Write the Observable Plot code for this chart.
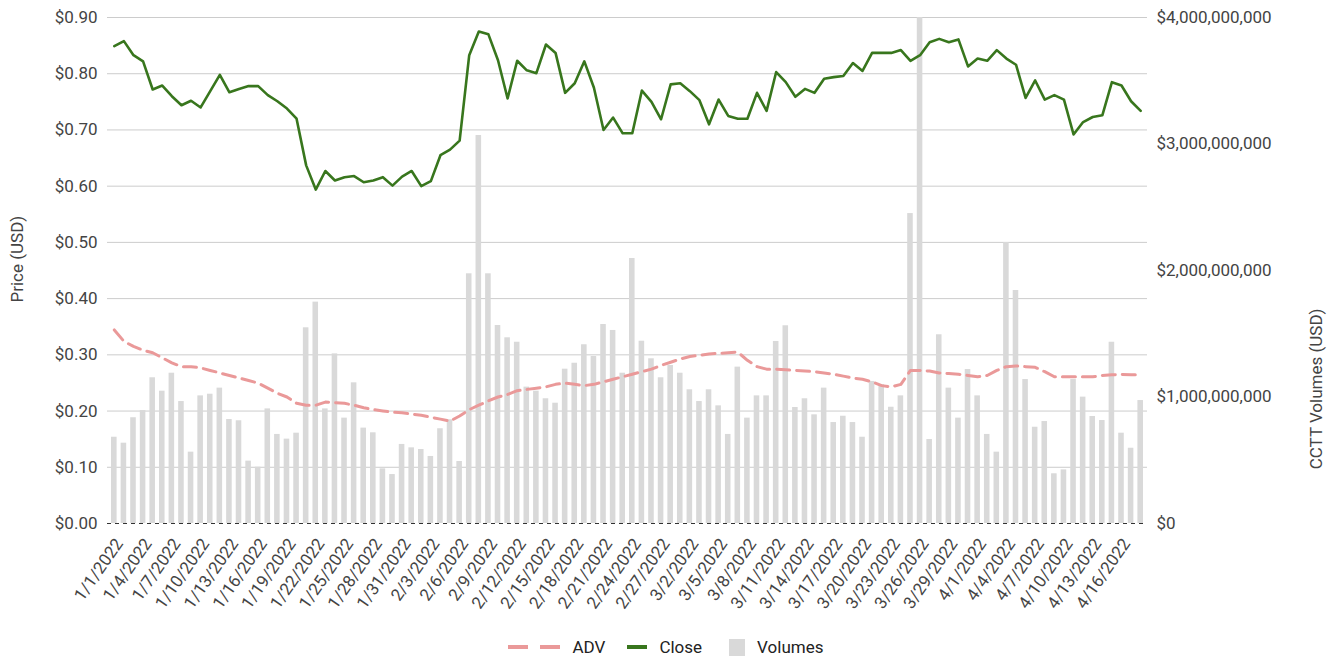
<!DOCTYPE html>
<html><head><meta charset="utf-8">
<script src="https://cdn.jsdelivr.net/npm/d3@7"></script>
<script src="https://cdn.jsdelivr.net/npm/@observablehq/plot@0.6"></script>
<style>
html,body{margin:0;padding:0;background:#fff;}
body{width:1331px;height:657px;overflow:hidden;font-family:Roboto,"Noto Sans",sans-serif;position:relative;}
#chart{position:absolute;left:0;top:0;}
#legend{position:absolute;left:0;top:633px;width:1331px;height:28px;display:flex;justify-content:center;align-items:center;font-size:17px;color:#222;}
#legend .it{display:flex;align-items:center;}
#legend svg{display:block;}
</style></head><body>
<div id="chart"></div>
<div id="legend">
  <div class="it"><svg width="52" height="12"><line x1="0" y1="6" x2="52" y2="6" stroke="#ea9999" stroke-width="4" stroke-dasharray="20,12"/></svg><span style="margin-left:13px">ADV</span></div>
  <div class="it" style="margin-left:22px"><svg width="20" height="12"><line x1="0" y1="6" x2="20" y2="6" stroke="#38761d" stroke-width="4"/></svg><span style="margin-left:12px">Close</span></div>
  <div class="it" style="margin-left:27px"><svg width="16" height="17"><rect x="0" y="0" width="16" height="17" fill="#d9d9d9"/></svg><span style="margin-left:12px">Volumes</span></div>
</div>
<script>
// Categories: daily dates 1/1/2022 .. 4/18/2022
const dates = d3.utcDay.range(new Date(Date.UTC(2022,0,1)), new Date(Date.UTC(2022,3,19)))
  .map(d => `${d.getUTCMonth()+1}/${d.getUTCDate()}/${d.getUTCFullYear()}`);

// Close price (USD)
const close = [
 0.849,0.858,0.833,0.822,0.772,0.779,0.760,0.744,0.752,0.740,
 0.769,0.798,0.767,0.773,0.778,0.778,0.762,0.751,0.738,0.720,
 0.637,0.594,0.627,0.610,0.616,0.618,0.607,0.610,0.616,0.601,
 0.617,0.627,0.600,0.609,0.655,0.665,0.681,0.833,0.875,0.870,
 0.824,0.756,0.823,0.806,0.801,0.852,0.837,0.766,0.783,0.822,
 0.775,0.700,0.722,0.694,0.694,0.770,0.750,0.719,0.781,0.783,
 0.769,0.753,0.710,0.754,0.725,0.720,0.720,0.766,0.734,0.803,
 0.785,0.759,0.773,0.766,0.791,0.794,0.796,0.819,0.805,0.837,
 0.837,0.837,0.842,0.823,0.833,0.856,0.862,0.856,0.861,0.813,
 0.827,0.823,0.842,0.827,0.816,0.757,0.788,0.754,0.762,0.754,
 0.692,0.714,0.723,0.726,0.785,0.779,0.751,0.734
];

// Daily volumes (USD billions)
const volumes = [
 0.682,0.635,0.836,0.893,1.152,1.046,1.188,0.964,0.564,1.009,
 1.022,1.070,0.822,0.812,0.493,0.445,0.906,0.704,0.667,0.714,
 1.547,1.750,0.906,1.341,0.833,1.112,0.754,0.717,0.432,0.387,
 0.625,0.598,0.585,0.530,0.749,0.820,0.490,1.974,3.067,1.974,
 1.565,1.468,1.433,1.078,1.046,0.986,0.951,1.220,1.267,1.413,
 1.320,1.573,1.526,1.188,2.095,1.441,1.302,1.152,1.249,1.188,
 1.057,0.964,1.057,0.930,0.704,1.236,0.833,1.009,1.009,1.439,
 1.563,0.917,0.986,0.859,1.070,0.798,0.848,0.798,0.682,1.123,
 1.098,0.919,1.009,2.450,4.000,0.664,1.492,1.070,0.833,1.217,
 1.009,0.704,0.564,2.221,1.842,1.138,0.761,0.806,0.393,0.424,
 1.138,0.999,0.846,0.814,1.433,0.714,0.595,0.972
];

// ADV (USD billions)
const adv = [
 1.53,1.44,1.40,1.37,1.35,1.31,1.27,1.24,1.24,1.23,
 1.21,1.19,1.17,1.15,1.13,1.11,1.07,1.03,1.00,0.95,
 0.935,0.935,0.96,0.955,0.95,0.935,0.915,0.90,0.89,0.88,
 0.875,0.865,0.855,0.84,0.825,0.81,0.85,0.90,0.935,0.97,
 1.00,1.02,1.05,1.06,1.07,1.08,1.10,1.11,1.10,1.09,
 1.10,1.12,1.14,1.16,1.18,1.20,1.22,1.25,1.275,1.30,
 1.32,1.33,1.34,1.345,1.35,1.355,1.29,1.24,1.22,1.22,
 1.215,1.21,1.205,1.20,1.19,1.18,1.165,1.15,1.14,1.12,
 1.09,1.08,1.10,1.21,1.21,1.205,1.19,1.185,1.18,1.17,
 1.16,1.17,1.21,1.24,1.245,1.24,1.235,1.20,1.16,1.16,
 1.16,1.16,1.16,1.17,1.175,1.178,1.175,1.175
];

const priceTicks = [0,0.1,0.2,0.3,0.4,0.5,0.6,0.7,0.8,0.9];
const volTicks = [0,1e9,2e9,3e9,4e9];
const priceMax = 0.9, volMax = 4e9;
const k = priceMax / volMax; // volume USD -> price axis units

const xTicks = dates.filter((d,i) => i % 3 === 0);

const data = dates.map((date,i) => ({date, close: close[i], vol: volumes[i]*1e9*k, adv: adv[i]*1e9*k}));

const chart = Plot.plot({
  width: 1331,
  height: 630,
  marginLeft: 107,
  marginRight: 184,
  marginTop: 17,
  marginBottom: 107,
  style: {fontFamily: "Roboto, 'Noto Sans', sans-serif", fontSize: "17px", color: "#444", background: "#fff"},
  x: {type: "band", domain: dates, padding: 0.42, axis: null},
  y: {domain: [0, priceMax], axis: null},
  marks: [
    Plot.gridY(priceTicks.filter(d => d > 0), {stroke: "#cccccc", strokeOpacity: 1, strokeWidth: 1}),
    Plot.barY(data, {x: "date", y: "vol", fill: "#d9d9d9"}),
    Plot.ruleY([0], {stroke: "#333", strokeWidth: 1, strokeDasharray: "4,4"}),
    Plot.line(data, {x: "date", y: "adv", stroke: "#ea9999", strokeWidth: 3, strokeDasharray: "13,7"}),
    Plot.line(data, {x: "date", y: "close", stroke: "#38761d", strokeWidth: 2.6}),
    Plot.axisY(priceTicks, {anchor: "left", tickSize: 0, tickPadding: 10, tickFormat: d => "$" + d.toFixed(2), label: null, fontSize: 17, fill: "#444"}),
    Plot.axisY(volTicks.map(v => v*k), {anchor: "right", tickSize: 0, tickPadding: 9, tickFormat: y => "$" + d3.format(",")(Math.round(y/k)), label: null, fontSize: 17, fill: "#444"}),
    Plot.axisX(xTicks, {anchor: "bottom", tickSize: 0, tickPadding: 17, dx: 5, tickRotate: -55, label: null, fontSize: 17, fill: "#444"}),
    Plot.text(["Price (USD)"], {frameAnchor: "left", dx: -90, dy: 32, rotate: -90, fontSize: 17, fill: "#444"}),
    Plot.text(["CCTT Volumes (USD)"], {frameAnchor: "right", dx: 169, dy: 38, rotate: -90, fontSize: 17, fill: "#444"})
  ]
});
document.getElementById("chart").appendChild(chart);
</script>
</body></html>
